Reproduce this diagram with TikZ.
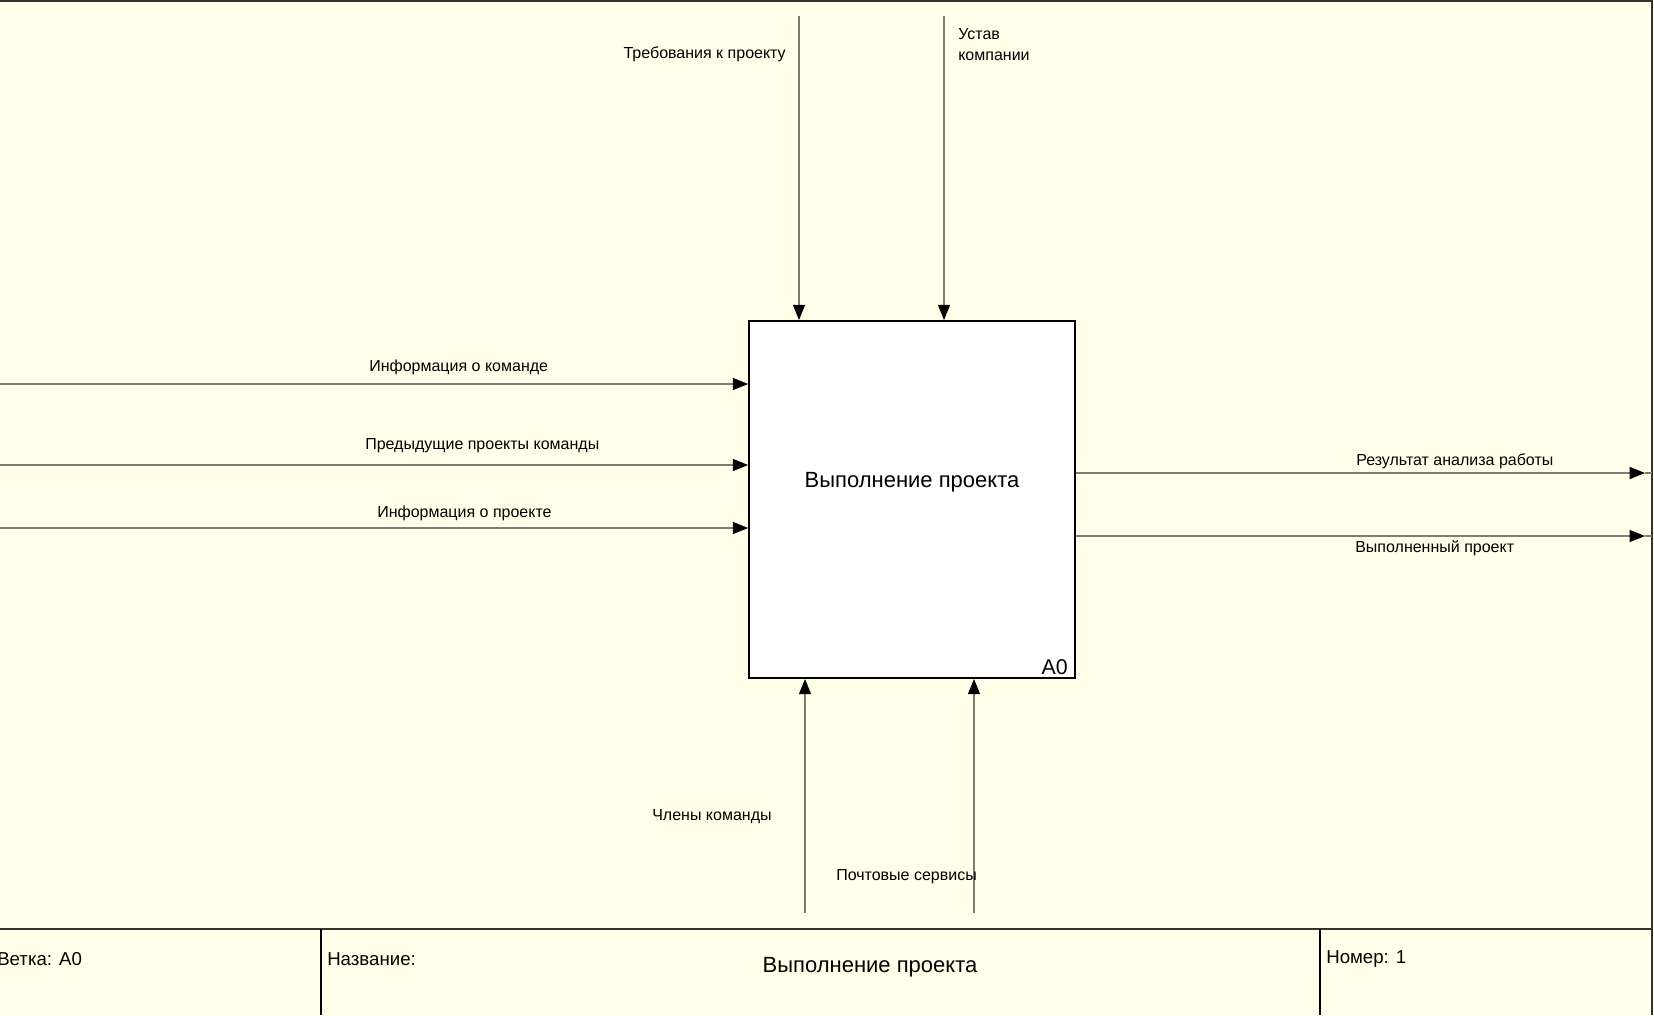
\documentclass[tikz,border=0pt]{standalone}
\usepackage{fontspec}
\setmainfont{Liberation Sans}
\usetikzlibrary{arrows.meta}
\definecolor{paper}{RGB}{255,255,234}
\definecolor{wire}{RGB}{125,125,115}
\definecolor{framec}{RGB}{50,52,45}
\begin{document}
\begin{tikzpicture}[x=0.75pt,y=-0.75pt,
  conn/.style={draw=wire,line width=1pt},
  arr/.style={conn,-{Triangle[length=11.5pt,width=9pt,color=black]}},
  lbl/.style={inner sep=0pt,font=\fontsize{12}{15.75}\selectfont},
  frameline/.style={draw=framec,line width=1.6pt},
  cellline/.style={draw=black,line width=1pt},
  celltext/.style={inner sep=0pt,font=\fontsize{14}{17}\selectfont},
  actbox/.style={draw=black,fill=white,line width=1.3pt,rectangle,inner sep=0pt}]
% page and background
\fill[paper] (0,0) rectangle (1654,1015);
\useasboundingbox (0,0) rectangle (1654,1015);

% frame of the form
\coordinate (ftl) at (0,1);
\coordinate (ftr) at (1652,1);
\coordinate (fbr) at (1652,1015);
\coordinate (dl) at (0,929);
\coordinate (dr) at (1652,929);
\draw[frameline] (ftl) -- (ftr) -- (fbr);
\draw[frameline,line width=2.2pt] (dl) -- (dr);
\foreach \tx in {264,821,854,1134,1417}
  \draw[framec,line width=1.2pt] (\tx,0) -- (\tx,2);
\coordinate (v1t) at (321,929);
\coordinate (v1b) at (321,1015);
\coordinate (v2t) at (1320,929);
\coordinate (v2b) at (1320,1015);
\draw[cellline] (v1t) -- (v1b);
\draw[cellline] (v2t) -- (v2b);

% title block texts
\node[celltext,anchor=west] (branch) at (-3,959) {Ветка: A0};
\node[celltext,anchor=west] (titlekey) at (327,959) {Название:};
\node[inner sep=0pt,font=\fontsize{16.5}{19}\selectfont] (titleval) at (870,967) {Выполнение проекта};
\node[celltext,anchor=west] (number) at (1326,959) {Номер: 1};

% the activity box
\node[actbox,minimum width=244.5pt,minimum height=267.75pt] (box) at (912,499.5) {};
\node[inner sep=0pt,font=\fontsize{16.5}{19}\selectfont] (boxname) at (912,482) {Выполнение проекта};
\node[inner sep=0pt,anchor=east,font=\fontsize{16}{19}\selectfont] (boxid) at (1068,667) {A0};

% controls (top)
\coordinate (c1) at (799,16);
\coordinate (c2) at (944,16);
\draw[arr] (c1) -- (c1 |- box.north);
\draw[arr] (c2) -- (c2 |- box.north);
\node[lbl,anchor=east] (c1l) at (786,54) {Требования к проекту};
\node[lbl,anchor=north west,align=left] (c2l) at (958,28) {Устав\\компании};

% inputs (left)
\coordinate (i1) at (0,384);
\coordinate (i2) at (0,465);
\coordinate (i3) at (0,528);
\draw[arr] (i1) -- (i1 -| box.west);
\draw[arr] (i2) -- (i2 -| box.west);
\draw[arr] (i3) -- (i3 -| box.west);
\node[lbl,anchor=west] (i1l) at (369,367) {Информация о команде};
\node[lbl,anchor=west] (i2l) at (365,446) {Предыдущие проекты команды};
\node[lbl,anchor=west] (i3l) at (377,513) {Информация о проекте};

% outputs (right)
\coordinate (o1) at (1645,473);
\coordinate (o2) at (1645,536);
\draw[arr] (o1 -| box.east) -- (o1);
\draw[arr] (o2 -| box.east) -- (o2);
\draw[conn] (o1) -- (o1 -| ftr);
\draw[conn] (o2) -- (o2 -| ftr);
\node[lbl,anchor=west] (o1l) at (1356,461) {Результат анализа работы};
\node[lbl,anchor=west] (o2l) at (1355,548) {Выполненный проект};

% mechanisms (bottom)
\coordinate (m1) at (805,913);
\coordinate (m2) at (974,913);
\draw[arr] (m1) -- (m1 |- box.south);
\draw[arr] (m2) -- (m2 |- box.south);
\node[lbl,anchor=west] (m1l) at (652,817) {Члены команды};
\node[lbl,anchor=west] (m2l) at (836,877) {Почтовые сервисы};
\end{tikzpicture}
\end{document}
